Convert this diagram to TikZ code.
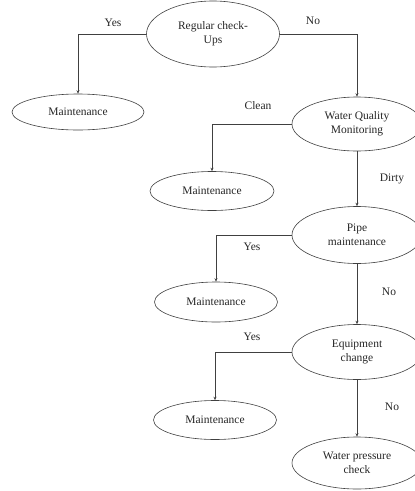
\documentclass[tikz,border=0pt]{standalone}
\usepackage{fontspec}
\setmainfont{Liberation Serif}
\usetikzlibrary{shapes.geometric,arrows.meta}
\begin{document}
\begin{tikzpicture}[x=1pt,y=-1pt,
  oval/.style={draw=black!75,line width=0.6pt,ellipse,inner sep=0pt,align=center,
    font=\fontsize{11.5}{14}\selectfont,text=black!85},
  lbl/.style={font=\fontsize{11.5}{14}\selectfont,text=black!85},
  conn/.style={draw=black!75,line width=0.6pt,-{Stealth[length=3.5pt,width=3pt]}}]
\useasboundingbox (0,0) rectangle (415,491);
\clip (0,0) rectangle (415,491);
\node[oval,minimum width=133pt,minimum height=66pt] (rc) at (213,34) {Regular check-\\Ups};
\node[oval,minimum width=132pt,minimum height=36pt] (m1) at (78,112) {Maintenance};
\node[oval,minimum width=130pt,minimum height=54pt] (wqm) at (357,124) {Water Quality\\Monitoring};
\node[oval,minimum width=124pt,minimum height=39pt] (m2) at (212,191) {Maintenance};
\node[oval,minimum width=130pt,minimum height=57pt] (pm) at (357,235) {Pipe\\maintenance};
\node[oval,minimum width=123pt,minimum height=40pt] (m3) at (216,302) {Maintenance};
\node[oval,minimum width=130pt,minimum height=55pt] (ec) at (357,352) {Equipment\\change};
\node[oval,minimum width=123pt,minimum height=39pt] (m4) at (215,420) {Maintenance};
\node[oval,minimum width=130pt,minimum height=52pt] (wpc) at (357,463) {Water pressure\\check};

\draw[conn] (rc.west) -| (m1.north);
\draw[conn] (rc.east) -| (wqm.north);
\draw[conn] (wqm.west) -| (m2.north);
\draw[conn] (wqm.south) -- (pm.north);
\draw[conn] (pm.west) -| (m3.north);
\draw[conn] (pm.south) -- (ec.north);
\draw[conn] (ec.west) -| (m4.north);
\draw[conn] (ec.south) -- (wpc.north);

\node[lbl] (l1) at (113,23) {Yes};
\node[lbl] (l2) at (313,21) {No};
\node[lbl] (l3) at (258,106) {Clean};
\node[lbl] (l4) at (392,179) {Dirty};
\node[lbl] (l5) at (252,247) {Yes};
\node[lbl] (l6) at (389,292) {No};
\node[lbl] (l7) at (252,337) {Yes};
\node[lbl] (l8) at (392,407) {No};
\end{tikzpicture}
\end{document}
